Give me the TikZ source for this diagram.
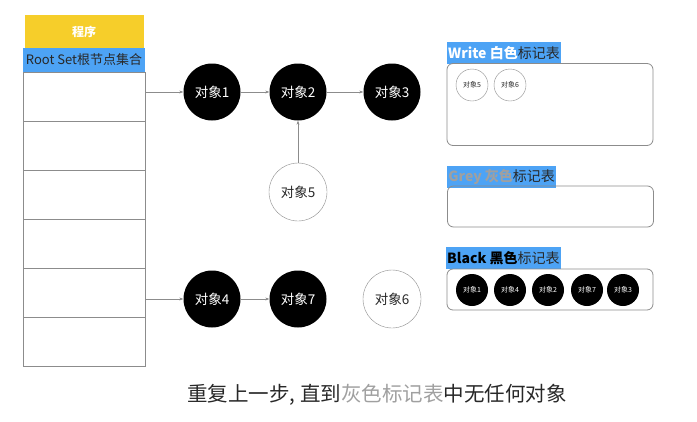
\documentclass[tikz,border=0pt]{standalone}
\usepackage{fontspec}
\setmainfont{Noto Sans CJK SC}
\usepackage{tikz}
\usetikzlibrary{arrows.meta,positioning,calc}
\definecolor{progyellow}{RGB}{246,206,42}
\definecolor{setblue}{RGB}{77,163,245}
\definecolor{linegrey}{RGB}{140,140,140}
\definecolor{textgrey}{RGB}{160,160,160}
\definecolor{textdark}{RGB}{40,40,40}
\newcommand{\fs}[1]{\fontsize{#1}{#1}\selectfont}

\begin{document}
\begin{tikzpicture}[x=1pt, y=-1pt,
    cell/.style={rectangle, draw=linegrey, fill=white, minimum width=122pt, minimum height=49pt},
    obj/.style={circle, fill=black, text=white, minimum size=57pt, inner sep=0pt, font=\fs{13.5}},
    wobj/.style={circle, draw=linegrey, fill=white, text=textdark, minimum size=58pt, inner sep=0pt, font=\fs{13.5}},
    mini/.style={circle, fill=black, text=white, minimum size=32pt, inner sep=0pt, font=\fs{7}},
    wmini/.style={circle, draw=linegrey, fill=white, text=textdark, minimum size=32pt, inner sep=0pt, font=\fs{7}},
    table/.style={rectangle, draw=linegrey, thick, rounded corners=6pt, minimum width=206pt},
    tag/.style={rectangle, fill=setblue, anchor=north west, minimum width=109pt, minimum height=22pt,
                inner sep=1pt, font=\fs{14}, text=textdark},
    link/.style={-{Stealth[length=4pt,width=3pt]}, linegrey}]
\useasboundingbox (0,0) rectangle (697,421);
% program column
\node[rectangle, fill=progyellow, minimum width=119pt, minimum height=33pt, text=white,
      font=\fs{12}\bfseries] (prog) at (84,31.5) {程序};
\node[rectangle, fill=setblue, minimum width=122pt, minimum height=24pt, text=textdark,
      inner sep=0pt, font=\fs{13}] (root) at (84,60) {Root Set根节点集合};
\foreach \i in {1,...,6}
  \node[cell] (cell\i) at (84,{72+49*(\i-0.5)}) {};
% objects
\node[obj]  (o1) at (212,92)  {对象1};
\node[obj]  (o2) at (298,92)  {对象2};
\node[obj]  (o3) at (392,92)  {对象3};
\node[wobj] (o5) at (298,192) {对象5};
\node[obj]  (o4) at (212,299) {对象4};
\node[obj]  (o7) at (298,299) {对象7};
\node[wobj] (o6) at (392,299) {对象6};
% references
\draw[link] (cell1.east |- o1) -- (o1);
\draw[link] (o1) -- (o2);
\draw[link] (o2) -- (o3);
\draw[link] (o5) -- (o2);
\draw[link] (cell5.east |- o4) -- (o4);
\draw[link] (o4) -- (o7);
% white table
\node[tag] (wtag) at (447,41.5) {\textcolor{white}{\bfseries Write 白色}标记表};
\node[table, minimum height=82pt] (wtab) at (550,104.5) {};
\node[wmini] (w5) at (472,85) {对象5};
\node[wmini] (w6) at (510,85) {对象6};
% grey table
\node[tag] (gtag) at (447,166) {\textcolor{textgrey}{\bfseries Grey 灰色}标记表};
\node[table, minimum height=41pt] (gtab) at (550.5,206.5) {};
% black table
\node[tag] (btag) at (446,247) {\textcolor{black}{\bfseries Black 黑色}标记表};
\node[table, minimum height=41pt] (btab) at (550,289.5) {};
\node[mini] (b1) at (472,290) {对象1};
\node[mini] (b4) at (510,290) {对象4};
\node[mini] (b2) at (548,290) {对象2};
\node[mini] (b7) at (587,290) {对象7};
\node[mini] (b3) at (623,290) {对象3};
% caption
\node[font=\fs{20.5}, text=textdark] (note) at (377,395)
  {重复上一步, 直到\textcolor{textgrey}{灰色标记表}中无任何对象};
\end{tikzpicture}
\end{document}
